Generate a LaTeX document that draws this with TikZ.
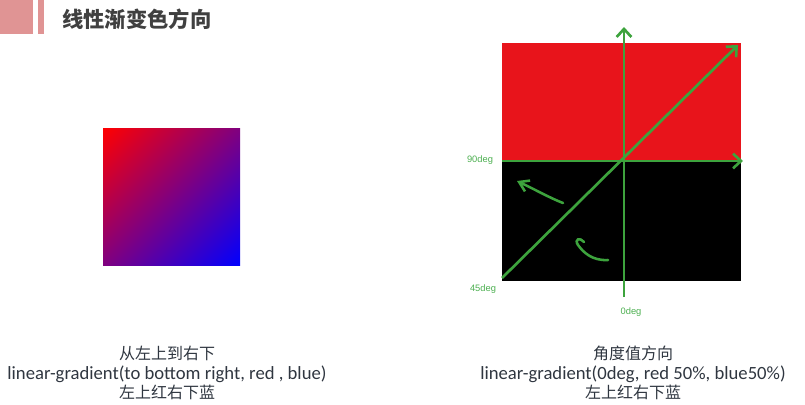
\documentclass[tikz,border=0pt]{standalone}
\usepackage{fontspec}
\setmainfont{Carlito}
\newfontfamily\cjk{Noto Sans CJK SC}
\newfontfamily\labelfont{Liberation Sans}
\usetikzlibrary{arrows.meta, shadings}
\definecolor{headpink}{HTML}{E09494}
\definecolor{titlegray}{HTML}{404040}
\definecolor{capgray}{HTML}{2F3640}
\definecolor{blockred}{HTML}{E8141B}
\definecolor{markgreen}{HTML}{3DA33D}
\definecolor{labelgreen}{HTML}{4CAF50}
\newcommand{\codeline}[1]{{\fontsize{14}{14.6}\selectfont #1}}
\tikzset{
      caption/.style    = {align=center, text=capgray, inner sep=0pt,
                           font=\fontsize{12}{14.6}\selectfont},
      axisarrow/.style  = {draw=markgreen, line width=2pt,
                           -{Straight Barb[length=6pt,width=11pt]}},
      turnarrow/.style  = {draw=markgreen, line width=1.9pt, line cap=round},
      deglabel/.style   = {text=labelgreen, inner sep=0pt,
                           font=\labelfont\fontsize{7}{8}\selectfont}
    }
\begin{document}
\begin{tikzpicture}[x=0.75pt, y=-0.75pt]
  \useasboundingbox (0,0) rectangle (805,404);
  % Header bar and title
  \fill[headpink] (0,0) rectangle (33,34);
  \fill[headpink] (38,0) rectangle (44,34);
  \node[font=\cjk\bfseries\fontsize{16}{18}\selectfont, text=titlegray,
        anchor=west, inner sep=0pt] (title) at (62,19) {线性渐变色方向};
  % Left square, red to blue
  \shade[upper left=red, upper right=red!50!blue,
         lower left=red!50!blue, lower right=blue] (103,128) rectangle (240,265);
  % Right square, two halves
  \fill[blockred] (502,43) rectangle (741,161);
  \fill[black] (502,161) rectangle (741,281);
  % Angle arrows
  \coordinate (up) at (624,27);
  \coordinate (down) at (624,297);
  \coordinate (west) at (502,161);
  \coordinate (east) at (743,161);
  \coordinate (sw) at (502,278);
  \coordinate (ne) at (738,45);
  \draw[axisarrow] (down) -- (up);
  \draw[axisarrow] (west) -- (east);
  \draw[axisarrow] (sw) -- (ne);
  % Turning arrows
  \draw[turnarrow, -{Straight Barb[length=7pt,width=9pt]}]
    (563,203) .. controls (550,198) and (536,190) .. (517,181);
  \draw[turnarrow]
    (608,260) .. controls (592,261) and (583,252) .. (578,245)
              .. controls (574,239) and (580,237) .. (584,242);
  % Angle labels
  \node[deglabel] (deg90) at (480,160) {90deg};
  \node[deglabel] (deg45) at (483,289) {45deg};
  \node[deglabel] (deg0) at (631,312) {0deg};
  % Captions
  \node[caption] (leftcap) at (167,373)
    {{\cjk 从左上到右下}\\ \codeline{linear-gradient(to bottom right, red , blue)}\\ {\cjk 左上红右下蓝}};
  \node[caption] (rightcap) at (633,373)
    {{\cjk 角度值方向}\\ \codeline{linear-gradient(0deg, red 50\%, blue50\%)}\\ {\cjk 左上红右下蓝}};
\end{tikzpicture}
\end{document}
